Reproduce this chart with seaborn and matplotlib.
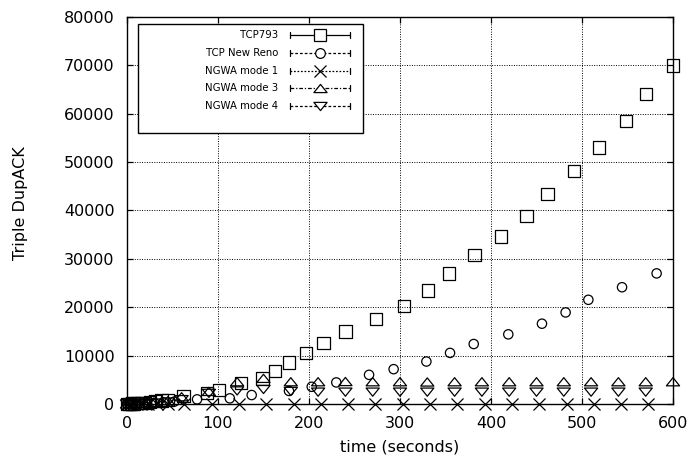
import numpy as np
import pandas as pd
import matplotlib
matplotlib.use("Agg")
import matplotlib.pyplot as plt
import seaborn as sns
from matplotlib.lines import Line2D
from matplotlib.patches import Rectangle
from matplotlib.path import Path

# ---------------- data ----------------
tcp793_t = [0, 2, 4, 6, 8, 11, 15, 20, 25, 31, 38, 45, 62, 88, 101, 125, 149, 163, 178,
            197, 216, 240, 274, 304, 331, 354, 382, 411, 439, 462, 491, 519, 548, 570, 600]
tcp793_v = [0, 30, 60, 90, 120, 150, 180, 250, 400, 680, 700, 820, 1650, 2330, 2880, 4380,
            5280, 6850, 8580, 10560, 12620, 14960, 17500, 20300, 23460, 27000, 30800, 34630,
            38900, 43350, 48100, 53000, 58500, 64100, 70000]

newreno_t = [0, 3, 6, 10, 15, 22, 30, 40, 52, 77, 113, 137, 178, 203, 230, 266, 293, 329,
             355, 381, 419, 456, 482, 507, 544, 582]
newreno_v = [0, 20, 50, 80, 120, 180, 250, 350, 500, 960, 1170, 1850, 2700, 3560, 4460, 6030,
             7200, 8780, 10560, 12400, 14400, 16600, 18930, 21540, 24140, 27000]

mode1_t = [0, 3, 8, 15, 23, 33, 45, 63, 93, 123, 153, 183, 213, 243, 273, 303, 333, 363, 393,
           423, 453, 483, 513, 543, 573]
mode1_v = [0, 0, 0, 0, 0, 0, 0, 0, 0, 0, 0, 0, 0, 0, 0, 0, 0, 0, 0, 0, 0, 0, 0, 0, 0]

mode3_t = [0, 5, 10, 20, 30, 45, 60, 90, 121, 150, 180, 210, 240, 270, 300, 330, 360, 390,
           420, 450, 480, 510, 540, 570, 600]
mode3_v = [0, 40, 80, 150, 300, 700, 1500, 2600, 4600, 5300, 4600, 4600, 4650, 4600, 4600,
           4550, 4600, 4600, 4600, 4600, 4600, 4600, 4600, 4600, 4600]

mode4_t = [0, 5, 10, 20, 30, 45, 60, 90, 121, 150, 180, 210, 240, 270, 300, 330, 360, 390,
           420, 450, 480, 510, 540, 570]
mode4_v = [0, 30, 60, 120, 200, 400, 900, 2200, 2700, 3000, 2600, 2450, 2450, 2450, 2450,
           2450, 2450, 2450, 2450, 2450, 2450, 2450, 2450, 2450]

series_names = ["TCP793", "TCP New Reno", "NGWA mode 1", "NGWA mode 3", "NGWA mode 4"]
x_ticks = [0, 100, 200, 300, 400, 500, 600]
y_ticks = [0, 10000, 20000, 30000, 40000, 50000, 60000, 70000, 80000]
x_label = "time (seconds)"
y_label = "Triple DupACK"

# ---------------- style ----------------
sns.set_theme(style="ticks")
plt.rcParams["font.family"] = ["DejaVu Sans"]
plt.rcParams["axes.edgecolor"] = "black"
plt.rcParams["axes.linewidth"] = 1.0

W, H = 692, 466
fig = plt.figure(figsize=(W / 100, H / 100), dpi=100)
fig.patch.set_facecolor("white")
L, R, T, B = 127, 673, 17, 404
ax = fig.add_axes([L / W, 1 - B / H, (R - L) / W, (B - T) / H])
ax.set_facecolor("white")

tri_up = Path([(-1, -0.62), (1, -0.62), (0, 0.62), (-1, -0.62)],
              [Path.MOVETO, Path.LINETO, Path.LINETO, Path.CLOSEPOLY])
tri_dn = Path([(-1, 0.62), (1, 0.62), (0, -0.62), (-1, 0.62)],
              [Path.MOVETO, Path.LINETO, Path.LINETO, Path.CLOSEPOLY])

lw = 0.9
common = dict(ax=ax, color="black", linewidth=lw, legend=False, zorder=3, clip_on=False)
sns.scatterplot(x=tcp793_t, y=tcp793_v, marker="s", s=78, facecolor="none",
                edgecolor="black", **common)
sns.scatterplot(x=newreno_t, y=newreno_v, marker="o", s=45, facecolor="none",
                edgecolor="black", **common)
sns.scatterplot(x=mode1_t, y=mode1_v, marker="x", s=75, **common)
sns.scatterplot(x=mode3_t, y=mode3_v, marker=tri_up, s=90, facecolor="none",
                edgecolor="black", **common)
sns.scatterplot(x=mode4_t, y=mode4_v, marker=tri_dn, s=90, facecolor="none",
                edgecolor="black", **common)

ax.set_xlim(0, 600)
ax.set_ylim(0, 80000)
ax.set_xticks(x_ticks)
ax.set_yticks(y_ticks)
ax.set_xticklabels([str(v) for v in x_ticks])
ax.set_yticklabels([str(v) for v in y_ticks])
ax.tick_params(direction="in", length=4, width=0.9, top=True, right=True,
               labelsize=11.5, colors="black", pad=9)
ax.grid(True, color="black", linestyle=(0, (1, 1.5)), linewidth=0.7)
ax.set_axisbelow(True)
for sp in ax.spines.values():
    sp.set_visible(True)
    sp.set_color("black")
    sp.set_linewidth(1.0)
    sp.set_zorder(2.5)

ax.set_xlabel(x_label, fontsize=11.5, color="black")
ax.set_ylabel(y_label, fontsize=11.5, color="black")
ax.xaxis.set_label_coords((400 - L) / (R - L), (B - 447) / (B - T))
ax.xaxis.label.set_verticalalignment("center")
ax.yaxis.set_label_coords((20 - L) / (R - L), (B - 203) / (B - T))
ax.yaxis.label.set_verticalalignment("center")

# ---------------- gnuplot-style key ----------------
def fx(px):
    return px / W

def fy(py):
    return 1 - py / H

box_l, box_r, box_t, box_b = 138, 363, 24, 133
fig.add_artist(Rectangle((fx(box_l), fy(box_b)), (box_r - box_l) / W, (box_b - box_t) / H,
                         transform=fig.transFigure, facecolor="white", edgecolor="black",
                         linewidth=1.0, zorder=10))

key_styles = [
    ("-", "s", 9.0),
    ((0, (2.2, 1.6)), "o", 7.0),
    ((0, (1.4, 1.4)), "x", 8.5),
    ((0, (3.0, 1.5, 1.0, 1.5)), tri_up, 9.5),
    ((0, (2.2, 1.6)), tri_dn, 9.5),
]
line_l, line_r, mark_x, text_r = 290, 350, 320, 278
for i, (name, (ls, mk, ms)) in enumerate(zip(series_names, key_styles)):
    yy = 35 + 17.75 * i
    fig.text(fx(text_r), fy(yy), name, ha="right", va="center", fontsize=7.3,
             color="black", zorder=11)
    fig.add_artist(Line2D([fx(line_l), fx(line_r)], [fy(yy), fy(yy)],
                          transform=fig.transFigure, color="black", linestyle=ls,
                          linewidth=0.9, zorder=11))
    for cx in (line_l, line_r):
        fig.add_artist(Line2D([fx(cx), fx(cx)], [fy(yy - 3), fy(yy + 3)],
                              transform=fig.transFigure, color="black",
                              linewidth=0.9, zorder=11))
    fig.add_artist(Line2D([fx(mark_x)], [fy(yy)], transform=fig.transFigure,
                          marker=mk, markersize=ms, markerfacecolor="white",
                          markeredgecolor="black", markeredgewidth=0.9,
                          linestyle="none", zorder=12))

fig.savefig("out.png", dpi=100, facecolor="white")
